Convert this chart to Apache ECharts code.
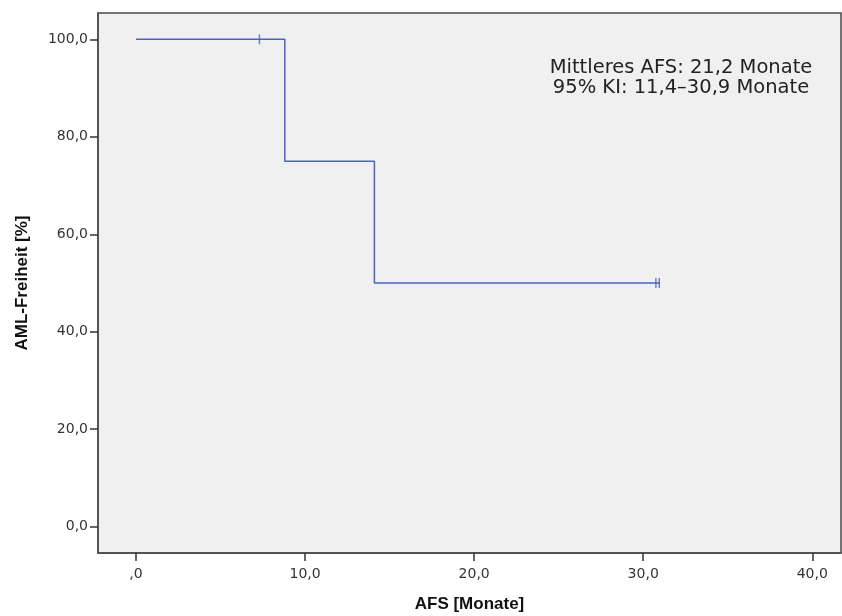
<!DOCTYPE html>
<html>
<head>
<meta charset="utf-8">
<script src="https://cdn.jsdelivr.net/npm/echarts@6/dist/echarts.min.js"></script>
<style>html,body{margin:0;padding:0;background:#fff}#c{width:842px;height:616px}</style>
</head>
<body>
<div id="c"></div>
<script>
// Kaplan-Meier step data (time in months, survival %)
const kmTimes = [0, 8.8, 14.1, 31.0];
const kmSurvival = [100, 75, 50, 50];
// Censored observations
const censorTimes = [7.3, 30.75, 30.95];
const censorSurvival = [100, 50, 50];
// Axis ticks
const xTicks = [0, 10, 20, 30, 40];
const yTicks = [0, 20, 40, 60, 80, 100];
const annotationLines = ['Mittleres AFS: 21,2 Monate', '95% KI: 11,4–30,9 Monate'];

function fmt(v) { return v === 0 ? ',0' : v.toFixed(1).replace('.', ','); }
function fmtY(v) { return v.toFixed(1).replace('.', ','); }

const chart = echarts.init(document.getElementById('c'), null, {renderer: 'canvas'});
const lineColor = '#4a64c0';
chart.setOption({
  animation: false,
  grid: {left: 98, right: 1, top: 13, bottom: 63, outerBoundsMode: 'none', containLabel: false, show: true, backgroundColor: '#f0f0f0', borderColor: '#4a4a4a', borderWidth: 1.5},
  xAxis: {
    type: 'value', min: -2.25, max: 41.7,
    name: 'AFS [Monate]', nameLocation: 'middle', nameGap: 43,
    nameTextStyle: {fontFamily: 'Liberation Sans, Arial, sans-serif', fontWeight: 'bold', fontSize: 17, color: '#111'},
    axisLine: {onZero: false, lineStyle: {color: '#4a4a4a', width: 1.5}},
    axisTick: {show: true, length: 8, customValues: xTicks, lineStyle: {color: '#333', width: 1.5}},
    axisLabel: {customValues: xTicks, formatter: fmt, margin: 14, fontFamily: 'DejaVu Sans, sans-serif', fontSize: 14, color: '#333'},
    splitLine: {show: false}
  },
  yAxis: {
    type: 'value', min: -5.4, max: 105.4,
    name: 'AML-Freiheit [%]', nameLocation: 'middle', nameGap: 67, nameRotate: 90,
    nameTextStyle: {fontFamily: 'Liberation Sans, Arial, sans-serif', fontWeight: 'bold', fontSize: 17, color: '#111'},
    axisLine: {onZero: false, lineStyle: {color: '#4a4a4a', width: 1.5}},
    axisTick: {show: true, length: 8, customValues: yTicks, lineStyle: {color: '#333', width: 1.5}},
    axisLabel: {customValues: yTicks, formatter: fmtY, margin: 10, fontFamily: 'DejaVu Sans, sans-serif', fontSize: 14, color: '#333'},
    splitLine: {show: false}
  },
  series: [
    {
      type: 'line', step: 'end', symbol: 'none',
      data: kmTimes.map((t, i) => [t, kmSurvival[i]]),
      lineStyle: {color: lineColor, width: 1.5}
    },
    {
      type: 'scatter', symbol: 'rect', symbolSize: [1.5, 10],
      data: censorTimes.map((t, i) => [t, censorSurvival[i]]),
      itemStyle: {color: lineColor}
    }
  ],
  graphic: [
    {type: 'text', x: 681, y: 68, style: {text: annotationLines[0], font: '19.5px "DejaVu Sans", sans-serif', fill: '#222', align: 'center', verticalAlign: 'middle'}},
    {type: 'text', x: 681, y: 88, style: {text: annotationLines[1], font: '19.5px "DejaVu Sans", sans-serif', fill: '#222', align: 'center', verticalAlign: 'middle'}}
  ]
});
</script>
</body>
</html>
